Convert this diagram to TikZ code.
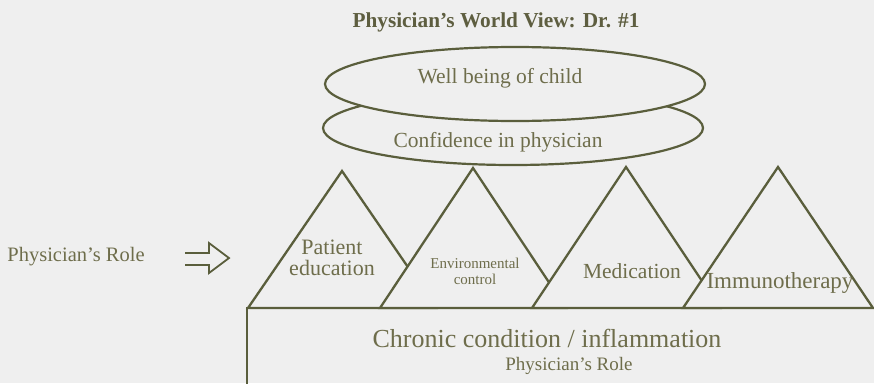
\documentclass[tikz,border=0pt]{standalone}
\usepackage{fontspec}
\setmainfont{Liberation Serif}
\usetikzlibrary{shapes.geometric}
\definecolor{bg}{HTML}{EFEFEF}
\definecolor{ln}{HTML}{5A5E3C}
\definecolor{tx}{HTML}{6E6D4B}
\definecolor{tt}{HTML}{5E5E40}
\tikzset{
  shapeline/.style={draw=ln, line width=2.3pt, fill=bg, line join=miter},
  oval/.style={ellipse, draw=ln, line width=2.2pt, fill=bg, minimum width=380pt, minimum height=74pt, inner sep=0pt},
  lbl/.style={text=tx, inner sep=0pt, align=center},
}
\newcommand{\fs}[1]{\fontsize{#1}{#1}\selectfont}
\begin{document}
\begin{tikzpicture}[x=1pt,y=-1pt]
\fill[bg] (0,0) rectangle (874,383);
\useasboundingbox (0,0) rectangle (874,383);
\clip (0,0) rectangle (874,383);
% title
\node[lbl, text=tt, font=\fs{21.3}\bfseries] (title) at (496,22) {Physician’s World View: Dr. \#1};
% left label and arrow
\node[lbl, font=\fs{20.5}] (role) at (76,257) {Physician’s Role};
\draw[draw=ln, line width=1.8pt, line join=miter] (185,253) -- (209,253) -- (209,243) -- (229,258) -- (209,273) -- (209,265) -- (185,265);
% base block
\draw[draw=ln, line width=2.3pt] (247,390) -- (247,308) -- (880,308);
\node[lbl, font=\fs{26}] (chronic) at (547,338) {Chronic condition / inflammation};
\node[lbl, font=\fs{19}] (role2) at (569,366) {Physician’s Role};
% triangles
\path[shapeline] (248,308) -- (342,171) -- (436,308) -- cycle;
\path[shapeline] (380,308) -- (473,168) -- (566,308) -- cycle;
\path[shapeline] (532,308) -- (626,167) -- (720,308) -- cycle;
\path[shapeline] (683,308) -- (778,167) -- (873,308) -- cycle;
\node[lbl, font=\fs{22}] (pe) at (332,258) {Patient\\[-1pt]education};
\node[lbl, font=\fs{15}] (ec) at (475,271) {Environmental\\[1pt]control};
\node[lbl, font=\fs{21.5}] (med) at (632,271) {Medication};
\node[lbl, font=\fs{23}] (imm) at (780,283) {Immunotherapy};
% ellipses
\node[oval] (confo) at (513,128) {};
\node[oval] (wello) at (515,84) {};
\node[lbl, font=\fs{21.5}] (conf) at (498,142) {Confidence in physician};
\node[lbl, font=\fs{21.5}] (well) at (500,78) {Well being of child};
\end{tikzpicture}
\end{document}
